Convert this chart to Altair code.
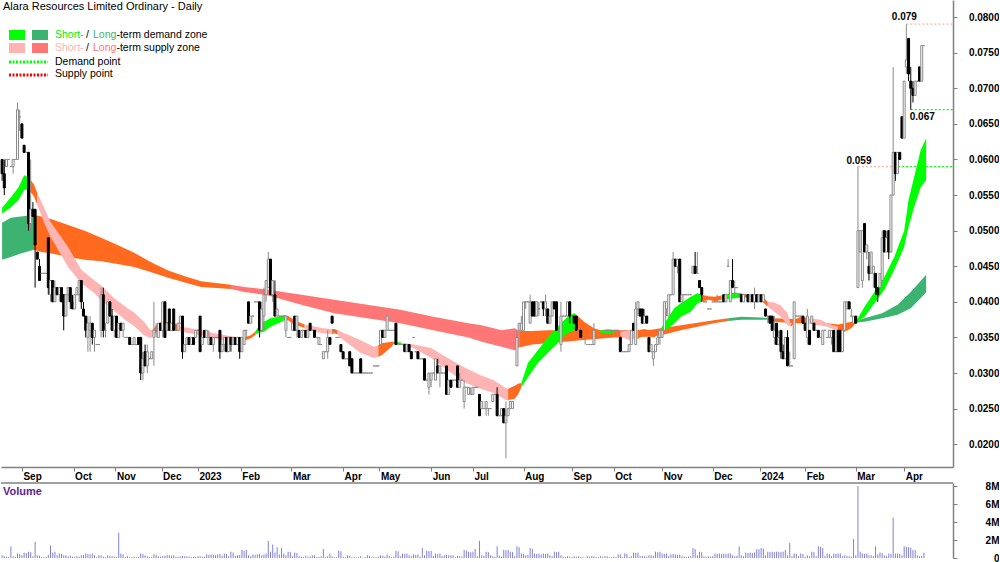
import altair as alt
import pandas as pd

FONT = "Liberation Sans"

# ---- daily bars, prices in tenths of a cent (35 -> $0.035) ----
OPEN = [
    60, 58, 59, 60, 59, 59, 60, 60, 66, 65,
    62, 61, 61, 51, 53, 53, 47, 45, 44, 44,
    44, 49, 41, 43, 40, 42, 41, 42, 41, 38,
    41, 42, 40, 39, 41, 41, 43, 39, 38, 35,
    36, 37, 35, 34, 34, 36, 41, 36, 37, 40,
    38, 36, 38, 35, 37, 36, 35, 35, 35, 34,
    34, 34, 35, 35, 30, 33, 31, 32, 32, 35,
    36, 35, 37, 36, 40, 36, 39, 36, 39, 36,
    36, 37, 38, 33, 34, 35, 34, 35, 35, 36,
    38, 34, 36, 35, 34, 35, 34, 35, 35, 36,
    33, 34, 35, 33, 35, 34, 35, 34, 35, 33,
    34, 36, 40, 37, 38, 40, 40, 40, 36, 38,
    41, 42, 46, 41, 41, 38, 38, 38, 38, 36,
    35, 35, 36, 38, 36, 36, 35, 36, 36, 35,
    37, 36, 36, 35, 34, 34, 32, 33, 33, 35,
    38, 36, 35, 35, 34, 33, 32, 32, 33, 32,
    30, 30, 30, 32, 30, 30, 30, 30, 30, 31,
    31, 31, 34, 36, 35, 36, 36, 36, 36, 37,
    34, 34, 34, 34, 33, 34, 33, 35, 33, 33,
    32, 32, 32, 29, 28, 29, 30, 29, 31, 30,
    30, 30, 31, 27, 29, 29, 29, 31, 28, 29,
    26, 28, 27, 27, 27, 28, 28, 27, 25, 25,
    25, 25, 25, 26, 27, 27, 24, 24, 25, 23,
    24, 25, 25, 28, 31, 36, 36, 36, 40, 40,
    37, 40, 40, 38, 39, 40, 40, 39, 39, 37,
    38, 40, 40, 36, 34, 38, 38, 38, 40, 38,
    38, 38, 36, 36, 35, 35, 34, 34, 34, 34,
    35, 35, 35, 35, 36, 36, 36, 36, 36, 36,
    36, 35, 33, 33, 33, 33, 34, 37, 34, 39,
    39, 39, 37, 38, 35, 33, 32, 33, 34, 35,
    35, 36, 39, 38, 41, 41, 46, 45, 46, 40,
    41, 41, 41, 41, 44, 45, 44, 43, 42, 40,
    40, 39, 39, 40, 40, 40, 40, 40, 41, 40,
    45, 40, 43, 42, 42, 41, 41, 40, 41, 41,
    40, 41, 40, 41, 40, 41, 40, 39, 38, 38,
    38, 35, 37, 34, 36, 33, 32, 35, 31, 31,
    32, 38, 38, 38, 38, 37, 35, 36, 37, 37,
    36, 36, 35, 34, 36, 35, 35, 35, 36, 33,
    36, 36, 33, 36, 39, 40, 38, 37, 38, 42,
    47, 43, 51, 47, 45, 44, 44, 44, 42, 42,
    43, 50, 47, 50, 47, 55, 61, 58, 61, 66,
    63, 73, 77, 71, 70, 69, 71, 73, 71, 76,
]
HIGH = [
    60, 60, 60, 60, 59, 60, 60, 68, 67, 65,
    62, 61, 61, 60, 54, 53, 47, 46, 44, 44,
    44, 49, 43, 43, 43, 42, 42, 42, 41, 41,
    42, 42, 41, 41, 42, 43, 43, 40, 38, 38,
    38, 37, 36, 34, 34, 42, 42, 37, 40, 40,
    39, 38, 38, 37, 37, 37, 35, 35, 35, 34,
    35, 34, 35, 35, 33, 34, 34, 32, 33, 40,
    37, 37, 37, 40, 40, 37, 39, 37, 39, 36,
    37, 38, 38, 34, 35, 35, 35, 35, 36, 36,
    38, 35, 36, 36, 36, 35, 35, 35, 35, 36,
    34, 35, 35, 35, 35, 35, 35, 35, 35, 35,
    36, 36, 40, 38, 38, 40, 40, 40, 40, 42,
    43, 47, 46, 43, 43, 39, 38, 38, 38, 38,
    35, 35, 37, 38, 38, 36, 36, 36, 36, 36,
    37, 36, 36, 35, 35, 34, 33, 33, 36, 35,
    38, 36, 35, 35, 34, 33, 32, 32, 33, 32,
    30, 30, 30, 32, 30, 30, 30, 30, 30, 31,
    31, 31, 36, 36, 36, 38, 36, 36, 36, 37,
    34, 34, 34, 34, 34, 34, 33, 35, 33, 33,
    32, 32, 32, 29, 30, 30, 30, 32, 32, 31,
    30, 30, 31, 29, 29, 29, 29, 31, 30, 29,
    29, 28, 28, 28, 28, 28, 28, 27, 26, 25,
    26, 25, 25, 27, 27, 28, 24, 25, 25, 26,
    25, 26, 26, 28, 36, 37, 38, 40, 40, 40,
    41, 40, 40, 40, 40, 40, 40, 41, 39, 38,
    40, 40, 40, 36, 40, 38, 38, 40, 40, 38,
    38, 38, 36, 36, 35, 35, 34, 34, 34, 37,
    35, 35, 35, 35, 36, 36, 36, 36, 36, 36,
    36, 35, 33, 33, 33, 34, 36, 37, 40, 40,
    39, 39, 39, 38, 35, 34, 33, 34, 36, 36,
    36, 40, 40, 41, 41, 47, 46, 46, 46, 41,
    41, 41, 41, 41, 45, 47, 47, 43, 42, 40,
    40, 39, 39, 40, 40, 41, 40, 40, 41, 41,
    46, 43, 46, 43, 42, 41, 41, 41, 41, 41,
    41, 41, 42, 41, 41, 41, 41, 39, 38, 38,
    38, 38, 37, 36, 36, 34, 35, 36, 33, 31,
    40, 38, 38, 38, 38, 37, 39, 36, 38, 37,
    36, 36, 35, 36, 36, 35, 36, 36, 36, 33,
    36, 36, 36, 40, 40, 40, 39, 38, 38, 59,
    50, 50, 51, 48, 47, 47, 45, 44, 42, 44,
    50, 50, 50, 50, 55, 73, 61, 61, 61, 66,
    71, 79, 77, 73, 71, 71, 71, 73, 76, 76,
]
LOW = [
    57, 55, 59, 60, 59, 58, 60, 60, 64, 63,
    61, 61, 50, 50, 52, 42, 46, 43, 44, 44,
    44, 41, 40, 40, 40, 41, 40, 40, 36, 38,
    40, 39, 39, 39, 41, 40, 39, 38, 35, 33,
    33, 34, 33, 34, 34, 35, 35, 35, 37, 38,
    36, 35, 35, 35, 36, 35, 35, 35, 34, 34,
    34, 34, 34, 29, 29, 31, 30, 32, 32, 31,
    35, 35, 36, 35, 35, 36, 36, 36, 36, 36,
    36, 37, 32, 33, 34, 34, 34, 34, 35, 36,
    33, 34, 35, 35, 34, 34, 33, 35, 35, 32,
    33, 33, 33, 33, 33, 34, 34, 34, 32, 33,
    34, 35, 37, 37, 38, 40, 40, 35, 36, 36,
    40, 42, 41, 40, 38, 38, 38, 38, 38, 35,
    35, 35, 36, 36, 35, 35, 35, 36, 35, 35,
    36, 36, 35, 35, 34, 34, 32, 33, 32, 34,
    37, 36, 35, 35, 33, 32, 32, 32, 31, 30,
    30, 30, 30, 30, 30, 30, 30, 30, 30, 31,
    31, 31, 34, 35, 35, 36, 36, 36, 36, 34,
    34, 34, 34, 33, 33, 33, 32, 35, 33, 32,
    32, 32, 29, 29, 27, 28, 30, 29, 30, 28,
    30, 30, 27, 27, 28, 29, 29, 28, 28, 29,
    25, 28, 27, 27, 27, 28, 28, 24, 25, 25,
    24, 24, 25, 26, 27, 24, 24, 24, 23, 18,
    24, 25, 25, 28, 31, 36, 36, 36, 39, 40,
    37, 38, 38, 38, 38, 40, 38, 38, 37, 37,
    38, 39, 36, 36, 33, 38, 38, 38, 37, 38,
    37, 36, 36, 35, 35, 34, 34, 34, 34, 34,
    35, 35, 35, 35, 36, 36, 36, 35, 36, 36,
    36, 33, 33, 33, 33, 33, 34, 36, 34, 38,
    38, 37, 37, 37, 33, 33, 31, 33, 34, 34,
    35, 36, 38, 38, 41, 41, 45, 44, 40, 40,
    41, 41, 41, 41, 44, 44, 44, 42, 40, 40,
    40, 39, 39, 40, 40, 40, 40, 40, 40, 40,
    45, 40, 42, 41, 42, 41, 40, 40, 41, 40,
    40, 40, 39, 40, 40, 40, 40, 38, 37, 37,
    36, 34, 34, 34, 32, 32, 32, 31, 31, 31,
    32, 38, 38, 38, 37, 36, 34, 34, 37, 36,
    36, 35, 35, 34, 36, 35, 35, 34, 33, 33,
    33, 33, 33, 36, 39, 39, 38, 37, 37, 42,
    47, 42, 47, 46, 43, 44, 42, 41, 40, 42,
    43, 47, 47, 46, 47, 55, 57, 58, 60, 63,
    63, 72, 71, 67, 68, 69, 71, 71, 71, 76,
]
CLOSE = [
    58, 56, 60, 60, 59, 60, 60, 67, 66, 63,
    61, 61, 51, 53, 52, 48, 46, 43, 44, 44,
    44, 42, 43, 40, 42, 41, 42, 40, 38, 41,
    42, 40, 39, 41, 42, 43, 40, 38, 36, 37,
    37, 35, 36, 34, 34, 41, 36, 36, 40, 38,
    36, 38, 35, 37, 36, 37, 35, 35, 34, 34,
    35, 34, 34, 30, 32, 31, 33, 32, 33, 36,
    36, 37, 36, 40, 35, 37, 36, 37, 36, 36,
    37, 38, 33, 34, 35, 34, 35, 34, 36, 36,
    33, 35, 35, 36, 35, 34, 35, 35, 35, 33,
    34, 35, 33, 35, 34, 35, 34, 35, 33, 35,
    36, 36, 37, 38, 38, 40, 40, 36, 39, 41,
    43, 46, 41, 43, 38, 39, 38, 38, 38, 38,
    35, 35, 37, 36, 38, 35, 36, 36, 35, 36,
    36, 36, 35, 35, 35, 34, 33, 33, 35, 34,
    37, 36, 35, 35, 33, 32, 32, 32, 31, 30,
    30, 30, 30, 30, 30, 30, 30, 30, 30, 31,
    31, 31, 36, 35, 36, 38, 36, 36, 36, 34,
    34, 34, 34, 33, 34, 33, 32, 35, 33, 32,
    32, 32, 29, 29, 30, 30, 30, 32, 30, 31,
    30, 30, 27, 29, 28, 29, 29, 28, 29, 29,
    28, 28, 28, 27, 28, 28, 28, 24, 26, 25,
    26, 25, 25, 27, 27, 24, 24, 25, 23, 24,
    25, 26, 26, 28, 35, 37, 37, 40, 40, 40,
    40, 38, 38, 40, 39, 40, 39, 40, 37, 38,
    40, 39, 36, 36, 38, 38, 38, 40, 38, 38,
    37, 36, 36, 35, 35, 35, 34, 34, 34, 36,
    35, 35, 35, 35, 36, 36, 36, 36, 36, 36,
    36, 33, 33, 33, 33, 34, 36, 36, 39, 40,
    38, 37, 38, 37, 33, 34, 33, 34, 35, 36,
    36, 40, 40, 41, 41, 46, 45, 46, 40, 41,
    41, 41, 41, 41, 45, 44, 44, 42, 41, 40,
    40, 39, 39, 40, 40, 40, 40, 40, 40, 41,
    45, 43, 42, 42, 42, 41, 40, 41, 41, 40,
    41, 40, 41, 40, 41, 40, 41, 38, 38, 37,
    36, 36, 34, 35, 33, 32, 35, 31, 31, 31,
    40, 38, 38, 38, 37, 36, 38, 34, 38, 36,
    36, 35, 35, 36, 36, 35, 36, 36, 33, 33,
    33, 33, 36, 40, 40, 39, 38, 38, 37, 50,
    50, 50, 47, 48, 44, 47, 45, 42, 41, 44,
    49, 47, 49, 47, 55, 61, 58, 61, 60, 63,
    71, 74, 72, 70, 69, 71, 71, 71, 76, 76,
]
# volume, thousands of shares
VOLUME_K = [
    300, 200, 150, 100, 1300, 200, 150, 500, 450, 300,
    600, 550, 700, 650, 200, 1800, 300, 250, 100, 100,
    100, 350, 1400, 600, 700, 300, 500, 450, 300, 300,
    200, 250, 150, 100, 200, 150, 300, 350, 500, 450,
    400, 500, 300, 100, 300, 300, 150, 100, 300, 250,
    200, 150, 100, 2800, 500, 400, 100, 200, 100, 100,
    150, 100, 100, 500, 450, 300, 200, 100, 150, 400,
    350, 200, 150, 200, 250, 300, 300, 250, 300, 150,
    150, 200, 250, 200, 200, 150, 100, 150, 100, 200,
    200, 150, 150, 400, 350, 400, 350, 300, 400, 450,
    250, 500, 450, 200, 700, 600, 250, 300, 350, 900,
    800, 900, 300, 200, 400, 350, 400, 450, 300, 400,
    500, 1900, 700, 1500, 600, 1200, 400, 1100, 500, 300,
    700, 650, 200, 600, 550, 200, 150, 100, 250, 150,
    150, 300, 300, 100, 150, 200, 1000, 100, 200, 500,
    200, 100, 100, 800, 750, 150, 100, 300, 250, 100,
    100, 50, 100, 200, 50, 100, 300, 250, 100, 100,
    100, 150, 300, 250, 150, 400, 200, 100, 150, 800,
    750, 200, 500, 450, 500, 300, 200, 400, 350, 400,
    150, 1100, 300, 800, 750, 800, 250, 500, 450, 500,
    200, 300, 350, 300, 300, 300, 100, 250, 200, 150,
    900, 850, 700, 650, 700, 1000, 200, 1900, 300, 250,
    700, 650, 300, 200, 150, 1300, 250, 150, 900, 850,
    900, 700, 650, 200, 1300, 1200, 500, 450, 300, 350,
    1100, 1000, 500, 450, 500, 400, 500, 450, 500, 300,
    200, 700, 650, 700, 300, 150, 100, 200, 150, 100,
    200, 150, 200, 100, 100, 50, 200, 150, 200, 200,
    100, 100, 200, 150, 200, 200, 100, 100, 150, 100,
    400, 400, 100, 500, 450, 100, 200, 600, 550, 600,
    200, 250, 200, 150, 300, 300, 250, 700, 650, 700,
    500, 450, 500, 200, 400, 450, 400, 350, 400, 200,
    150, 100, 150, 200, 1100, 1000, 300, 700, 650, 200,
    150, 200, 150, 200, 500, 450, 500, 400, 500, 450,
    500, 500, 300, 200, 250, 1300, 300, 200, 600, 550,
    600, 550, 600, 1000, 950, 1100, 1050, 300, 700, 650,
    700, 650, 700, 700, 650, 700, 900, 300, 1700, 200,
    500, 450, 200, 500, 450, 150, 300, 200, 700, 650,
    200, 1300, 1250, 1100, 200, 500, 450, 200, 500, 450,
    500, 500, 200, 300, 250, 200, 150, 2100, 300, 8000,
    700, 500, 450, 500, 300, 300, 200, 1300, 400, 600,
    550, 300, 200, 500, 450, 4500, 500, 500, 450, 300,
    1300, 1250, 1200, 1150, 900, 850, 300, 200, 250, 600,
]

# ---- month ticks (bar positions) ----
MONTH_POS = [9, 32.5, 51.5, 72.5, 89, 108.5, 131.5, 155, 171.5, 195,
             214, 237, 259, 278, 300, 323, 344.5, 365, 388, 410]
MONTH_LBL = ["Sep", "Oct", "Nov", "Dec", "2023", "Feb", "Mar", "Apr", "May", "Jun",
             "Jul", "Aug", "Sep", "Oct", "Nov", "Dec", "2024", "Feb", "Mar", "Apr"]

# ---- short-term zone (edges, tenths of a cent) ----
ST_X = [0, 4, 7.5, 10, 12, 14.5, 16, 19, 22, 25.5, 30, 36, 42, 45, 51, 57, 60, 64.5, 67.5, 69,
        71, 74, 78, 80, 81.5, 90.5, 96.5, 105.5, 107, 109, 113, 115, 116, 119, 122, 127, 129, 130,
        133, 136, 137.5, 139, 146, 150, 151, 152.5, 154, 163, 169, 171, 172.5, 177, 178, 181.5,
        187, 195, 202.5, 210, 217.5, 223.5, 229, 230, 233, 234.5, 236, 239, 243.5, 248, 252.5,
        257, 260, 261, 264.5, 269, 272, 275.5, 278, 281, 285, 289, 292, 296.5, 299.5, 303, 305.5,
        308.5, 313, 316, 318, 321, 324, 327, 330, 333, 336, 338, 344, 345, 348, 351, 354, 357,
        358.5, 360, 363, 366.5, 372, 375, 380, 383, 386, 388, 392, 396.5, 401, 405.5, 410, 412,
        414.5, 417.5, 420]
ST_LO = [52.4, 53.3, 54.3, 55.7, 55.8, 54.8, 53.6, 51.2, 49.1, 47.3, 44.9, 42.6, 41.2, 40.2, 38.7,
         37.2, 36.6, 35.3, 34.9, 35.3, 36.0, 36.0, 36.0, 35.9, 35.8, 35.3, 34.9, 34.2, 34.3, 34.4,
         34.9, 35.3, 35.6, 35.8, 36.5, 37.2, 37.5, 37.4, 36.7, 36.5, 36.3, 36.0, 35.6, 35.5, 35.6,
         35.4, 34.9, 32.8, 32.1, 32.3, 32.5, 33.7, 34.1, 34.0, 33.5, 32.1, 30.4, 28.7, 27.8, 27.2,
         26.2, 26.2, 26.4, 27.0, 28.0, 29.4, 31.4, 32.8, 34.2, 35.6, 36.0, 36.1, 35.6, 35.3, 35.6,
         35.6, 35.5, 35.2, 34.6, 34.8, 35.3, 35.0, 36.0, 36.3, 37.0, 37.9, 38.6, 39.8, 40.0, 40.3,
         40.1, 40.3, 40.4, 40.5, 40.6, 40.6, 40.5, 40.2, 39.3, 38.6, 37.9, 36.7, 36.5, 37.0, 37.2,
         37.0, 36.7, 36.5, 35.9, 35.8, 36.3, 37.0, 37.9, 39.8, 41.7, 44.5, 47.7, 50.5, 53.3, 56.1,
         57.1]
ST_HI = [53.2, 54.7, 56.1, 57.8, 57.5, 56.5, 55.3, 53.3, 51.2, 49.7, 47.7, 44.5, 43.0, 42.3, 40.5,
         39.1, 38.5, 37.2, 36.0, 36.3, 37.0, 37.2, 37.0, 36.8, 36.5, 36.0, 35.6, 35.1, 35.0, 34.9,
         35.3, 35.8, 36.3, 37.2, 37.7, 38.0, 38.1, 38.0, 37.4, 37.0, 36.8, 36.7, 36.3, 36.2, 36.2,
         36.0, 35.8, 34.6, 33.7, 33.9, 34.2, 34.4, 34.4, 34.3, 34.0, 33.5, 32.1, 30.8, 29.7, 29.0,
         27.9, 27.8, 28.2, 28.5, 28.6, 31.4, 33.2, 35.0, 36.5, 37.9, 38.4, 38.2, 37.2, 36.3, 36.0,
         36.1, 36.0, 35.8, 36.0, 36.0, 36.2, 35.8, 36.3, 37.9, 39.1, 39.8, 40.7, 41.2, 41.0, 40.8,
         40.7, 40.9, 41.1, 41.3, 41.2, 41.0, 41.0, 40.9, 40.0, 39.9, 39.5, 38.4, 36.8, 37.5, 37.9,
         37.7, 37.5, 37.0, 36.5, 36.5, 36.8, 37.2, 39.3, 41.4, 43.5, 46.3, 50.0, 54.3, 57.5, 61.3,
         63.0]
ST_SEG_START = [0, 12, 16, 69, 80, 107, 115, 129, 137.5, 150, 152.5, 171, 178, 181.5, 230, 236,
                261, 272, 278, 281, 289, 299.5, 318, 327, 336, 348, 358.5, 366.5, 380, 388]
ST_SEG_END = [12, 16, 69, 80, 107, 115, 129, 137.5, 150, 152.5, 171, 178, 181.5, 230, 236, 261,
              272, 278, 281, 289, 299.5, 318, 327, 336, 348, 358.5, 366.5, 380, 388, 420]
ST_SEG_KIND = ["sd", "o", "ss", "o", "ss", "o", "sd", "o", "ss", "o", "ss", "o", "sd", "ss", "o",
               "sd", "o", "sd", "o", "ss", "o", "sd", "o", "sd", "o", "ss", "o", "ss", "o", "sd"]

# ---- long-term zone ----
LT_X = [0, 4, 8.5, 14.5, 18, 22.5, 30, 37.5, 45, 52.5, 60, 67.5, 75.5, 83, 90.5, 104, 110, 121,
        136, 151, 166, 181, 196, 212, 218, 227, 233, 235, 241, 248, 263, 278, 293.5, 299.5, 308.5,
        323.5, 330, 336, 345, 348, 351, 360, 366.5, 375, 380, 386, 388, 392, 400, 407, 413, 420]
LT_LO = [45.9, 46.3, 46.8, 47.3, 47.0, 46.8, 46.3, 45.9, 45.7, 45.3, 44.9, 44.2, 43.4, 42.7, 42.1,
         41.8, 41.4, 40.9, 39.6, 38.4, 37.7, 37.0, 36.0, 35.0, 34.4, 33.7, 33.2, 33.6, 34.0, 34.2,
         34.6, 35.0, 35.1, 35.3, 36.0, 37.0, 37.3, 37.5, 37.5, 37.5, 37.2, 37.0, 37.0, 36.6, 36.1,
         36.7, 37.1, 37.2, 37.7, 38.2, 39.1, 41.3]
LT_HI = [51.1, 51.8, 52.0, 52.2, 52.0, 51.6, 50.8, 50.0, 49.0, 48.0, 46.9, 45.6, 44.4, 43.6, 42.9,
         42.4, 42.1, 41.7, 41.0, 40.3, 39.6, 38.9, 37.9, 37.0, 36.7, 36.0, 36.3, 35.9, 35.9, 36.0,
         36.0, 36.0, 36.0, 36.3, 36.7, 37.4, 37.7, 37.9, 37.8, 37.7, 37.7, 37.6, 37.4, 37.0, 36.8,
         37.2, 37.3, 37.7, 38.4, 39.6, 41.4, 43.8]
LT_SEG_START = [0, 14.5, 104, 235, 330, 348, 388]
LT_SEG_END = [14.5, 104, 235, 330, 348, 388, 420]
LT_SEG_KIND = ["ld", "o", "ls", "o", "ld", "o", "ld"]

# ---- demand / supply points ----
PT_START = [389, 405.5, 411, 413]
PT_END = [405.5, 432.2, 432.2, 432.2]
PT_PRICE = [59, 59, 79, 67]
PT_KIND = ["supply", "demand", "supply", "demand"]
PT_LABEL_IDX = [389, 411, 413]
PT_LABEL_PRICE = [59, 79, 67]
PT_LABEL_TEXT = ["0.059", "0.079", "0.067"]

# ---------------------------------------------------------------
n = min(len(OPEN), len(HIGH), len(LOW), len(CLOSE), len(VOLUME_K))
rows = []
for i in range(n):
    o, h, l, c = OPEN[i], HIGH[i], LOW[i], CLOSE[i]
    up = c >= o
    rows.append({
        "i": i, "x0": i - 0.45, "x1": i + 0.45,
        "hi": h / 1000, "lo": l / 1000,
        "top": max(o, c) / 1000, "bot": min(o, c) / 1000,
        "fillc": "white" if up else "black",
        "strokec": "#8a8a8a" if up else "black",
        "vol": VOLUME_K[i] / 1000, "zero": 0,
    })
bars = pd.DataFrame(rows)


def band_rows(xs, los, his, starts, ends, kinds, tag):
    out = []
    for j, (s, e, k) in enumerate(zip(starts, ends, kinds)):
        for x, lo, hi in zip(xs, los, his):
            if s <= x <= e:
                out.append({"x": x, "lo": lo / 1000, "hi": hi / 1000,
                            "seg": f"{tag}{j}", "kind": k})
    return out


bands_lt = pd.DataFrame(band_rows(LT_X, LT_LO, LT_HI, LT_SEG_START, LT_SEG_END, LT_SEG_KIND, "lt"))
bands_st = pd.DataFrame(band_rows(ST_X, ST_LO, ST_HI, ST_SEG_START, ST_SEG_END, ST_SEG_KIND, "st"))

pts = pd.DataFrame({"x0": PT_START, "x1": PT_END,
                    "p": [v / 1000 for v in PT_PRICE], "kind": PT_KIND})

KIND_DOMAIN = ["sd", "ss", "ld", "ls", "o"]
KIND_RANGE = ["#00FF00", "#FFB4B4", "#3CB371", "#FF7676", "#FF6A1F"]

W, H, VH = 952, 467, 75
xscale = alt.Scale(domain=[-0.5, 432.2], nice=False, zero=False)
yscale = alt.Scale(domain=[0.0168, 0.0824], nice=False, zero=False)

label_expr = "[" + ",".join(f"'{m}'" for m in MONTH_LBL) + "][indexof([" + \
    ",".join(str(p) for p in MONTH_POS) + "], datum.value)]"

xaxis = alt.Axis(values=MONTH_POS, labelExpr=label_expr, title=None, grid=False,
                 domainColor="#808080", domainWidth=1.5, tickColor="#808080", tickSize=4,
                 labelAlign="left", labelOffset=1, labelPadding=0, labelBaseline="top",
                 labelFont=FONT, labelFontSize=10, labelFontWeight="bold", labelColor="black",
                 labelFlush=False, labelOverlap=False)
yaxis = alt.Axis(orient="right", values=[0.02, 0.025, 0.03, 0.035, 0.04, 0.045, 0.05, 0.055,
                                         0.06, 0.065, 0.07, 0.075, 0.08],
                 format=".4f", title=None, grid=False, domainColor="#808080", domainWidth=1.5,
                 tickColor="#808080", tickSize=4, labelPadding=42, labelAlign="right",
                 labelFont=FONT, labelFontSize=10, labelFontWeight="bold", labelColor="black",
                 labelBaseline="middle", labelFlush=False, labelOverlap=False)


def X(f):
    return alt.X(f, type="quantitative", scale=xscale, axis=xaxis)


def Y(f):
    return alt.Y(f, type="quantitative", scale=yscale, axis=yaxis)


band_color = alt.Color("kind:N", scale=alt.Scale(domain=KIND_DOMAIN, range=KIND_RANGE), legend=None)

lt_layer = alt.Chart(bands_lt).mark_area(orient="vertical", opacity=1).encode(
    x=X("x"), y=Y("hi"), y2="lo:Q", color=band_color, detail="seg:N")
st_layer = alt.Chart(bands_st).mark_area(orient="vertical", opacity=1).encode(
    x=X("x"), y=Y("hi"), y2="lo:Q", color=band_color, detail="seg:N")

pt_layer = alt.Chart(pts).mark_rule(strokeDash=[2, 2], strokeWidth=1.2).encode(
    x=X("x0"), x2="x1:Q", y=Y("p"),
    color=alt.Color("kind:N", scale=alt.Scale(domain=["demand", "supply"],
                                              range=["#00DD00", "#FF0000"]), legend=None))

wick_layer = alt.Chart(bars).mark_rule(strokeWidth=1).encode(
    x=X("i"), y=Y("lo"), y2="hi:Q", color=alt.Color("strokec:N", scale=None))
body_layer = alt.Chart(bars).mark_rect(strokeWidth=1).encode(
    x=X("x0"), x2="x1:Q", y=Y("top"), y2="bot:Q",
    fill=alt.Fill("fillc:N", scale=None), stroke=alt.Stroke("strokec:N", scale=None))

label_layers = []
label_style = {"0.059": ("center", 1, -6), "0.079": ("center", -2, -7), "0.067": ("left", -1, 7)}
for ix, pr, tx in zip(PT_LABEL_IDX, PT_LABEL_PRICE, PT_LABEL_TEXT):
    al, dx, dy = label_style[tx]
    d = pd.DataFrame({"i": [ix], "p": [pr / 1000], "t": [tx]})
    label_layers.append(alt.Chart(d).mark_text(
        align=al, baseline="middle", dx=dx, dy=dy, font=FONT, fontSize=10,
        fontWeight="bold", color="black").encode(x=X("i"), y=Y("p"), text="t:N"))

ONE = pd.DataFrame({"a": [0]})


def txt(s, x, y, color, size=10.5, weight="normal"):
    return alt.Chart(ONE).mark_text(text=s, align="left", baseline="middle", font=FONT,
                                    fontSize=size, fontWeight=weight, color=color).encode(
        x=alt.value(x), y=alt.value(y))


def box(x1, x2, y1, y2, color):
    return alt.Chart(ONE).mark_rect(color=color).encode(
        x=alt.value(x1), x2=alt.value(x2), y=alt.value(y1), y2=alt.value(y2))


def dotted(x1, x2, y, color):
    return alt.Chart(ONE).mark_rule(color=color, strokeDash=[2, 1.5], strokeWidth=3).encode(
        x=alt.value(x1), x2=alt.value(x2), y=alt.value(y))


legend_layers = [
    txt("Alara Resources Limited Ordinary - Daily", 2, 7, "black", size=11),
    box(8, 24, 30, 40, "#00FF00"), box(31, 47, 30, 40, "#3CB371"),
    txt("Short-", 54, 35, "#00EE00"), txt("/", 85, 35, "black"),
    txt("Long", 92, 35, "#3CB371"), txt("-term demand zone", 115.4, 35, "black"),
    box(8, 24, 43, 53, "#FFB4B4"), box(31, 47, 43, 53, "#FF7676"),
    txt("Short-", 54, 48, "#FFB4B4"), txt("/", 85, 48, "black"),
    txt("Long", 92, 48, "#FF7676"), txt("-term supply zone", 115.4, 48, "black"),
    dotted(8, 47, 62, "#00FF00"), txt("Demand point", 54, 62, "black"),
    dotted(8, 47, 75, "#FF0000"), txt("Supply point", 54, 74, "black"),
]

price = alt.layer(lt_layer, st_layer, pt_layer, wick_layer, body_layer,
                  *label_layers, *legend_layers).properties(width=W, height=H)

vscale = alt.Scale(domain=[0, VH / 9.0], nice=False, zero=True)
vaxis = alt.Axis(orient="right", values=[0, 2, 4, 6, 8],
                 labelExpr="datum.value == 0 ? '0' : datum.value + 'M'",
                 title=None, grid=False, domainColor="#808080", domainWidth=1.5,
                 tickColor="#808080", tickSize=4, labelPadding=42, labelAlign="right",
                 labelFont=FONT, labelFontSize=10, labelFontWeight="bold", labelColor="black",
                 labelBaseline="middle", labelFlush=False, labelOverlap=False)

vol_layer = alt.Chart(bars).mark_rule(strokeWidth=1, color="#8080D8").encode(
    x=alt.X("i:Q", scale=xscale, axis=None),
    y=alt.Y("vol:Q", scale=vscale, axis=vaxis), y2="zero:Q")
vol_top = alt.Chart(ONE).mark_rule(color="#808080", strokeWidth=1.5).encode(
    x=alt.value(0), x2=alt.value(W), y=alt.value(0))
vol_title = alt.Chart(ONE).mark_text(text="Volume", align="left", baseline="middle", font=FONT,
                                     fontSize=11, fontWeight="bold", color="#5B1E96").encode(
    x=alt.value(2), y=alt.value(9))

volume = alt.layer(vol_layer, vol_top, vol_title).properties(width=W, height=VH)

chart = alt.vconcat(price, volume, spacing=0).resolve_scale(
    x="independent", y="independent").properties(padding=0).configure_view(stroke=None)

chart.save("out.html", embed_options={"renderer": "svg", "actions": False})
